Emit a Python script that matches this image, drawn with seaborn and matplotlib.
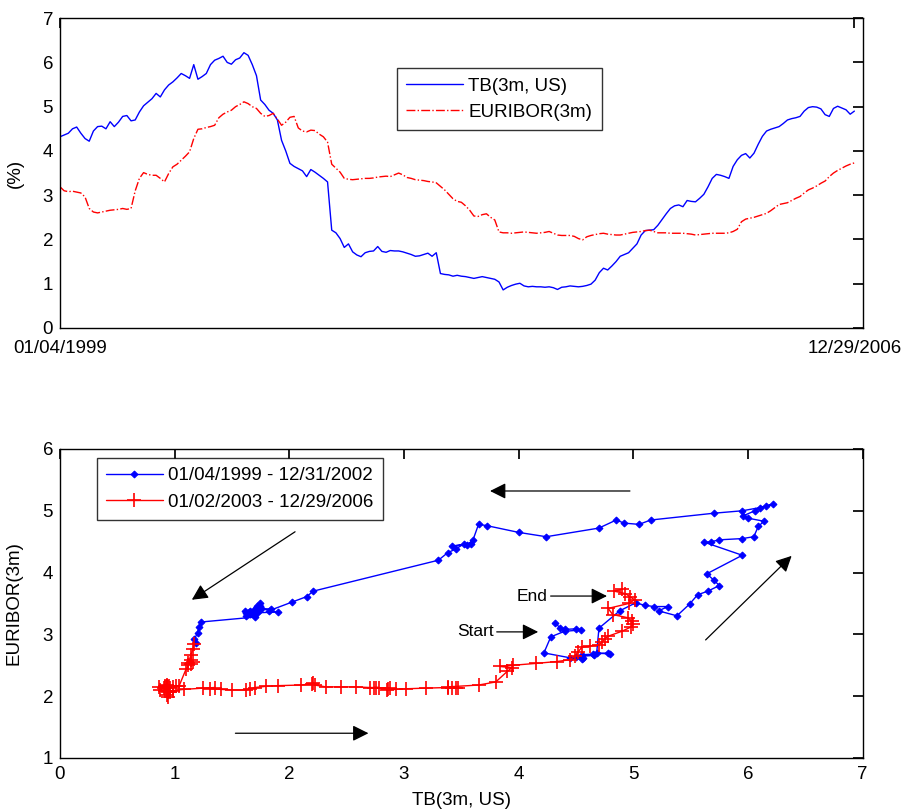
import numpy as np
import pandas as pd
import matplotlib
matplotlib.use('Agg')
import matplotlib.pyplot as plt
import seaborn as sns

# ==========================================
# 1. DATA (read twice a month, Jan 1999 - Dec 2006)
# ==========================================
tb_3m_us = [
    4.32, 4.36, 4.40, 4.50, 4.54, 4.40, 4.28, 4.22, 4.45, 4.55, 4.56, 4.50,   # 1999
    4.66, 4.55, 4.65, 4.78, 4.80, 4.68, 4.70, 4.88, 5.02, 5.10, 5.18, 5.30,
    5.22, 5.38, 5.49, 5.56, 5.65, 5.75, 5.70, 5.64, 5.95, 5.62, 5.68, 5.75,   # 2000
    5.95, 6.05, 6.09, 6.14, 6.00, 5.96, 6.06, 6.10, 6.22, 6.16, 5.95, 5.70,
    5.15, 5.05, 4.92, 4.85, 4.70, 4.24, 4.00, 3.72, 3.65, 3.60, 3.55, 3.42,   # 2001
    3.58, 3.52, 3.45, 3.38, 3.30, 2.21, 2.15, 2.02, 1.82, 1.90, 1.72, 1.65,
    1.61, 1.70, 1.73, 1.74, 1.84, 1.73, 1.71, 1.75, 1.74, 1.74, 1.72, 1.69,   # 2002
    1.66, 1.62, 1.63, 1.66, 1.69, 1.62, 1.70, 1.23, 1.21, 1.20, 1.17, 1.19,
    1.17, 1.16, 1.14, 1.12, 1.14, 1.16, 1.14, 1.12, 1.10, 1.04, 0.86, 0.92,   # 2003
    0.96, 0.99, 1.01, 0.95, 0.93, 0.94, 0.93, 0.93, 0.92, 0.93, 0.91, 0.87,
    0.92, 0.93, 0.95, 0.94, 0.93, 0.94, 0.96, 0.99, 1.08, 1.25, 1.35, 1.31,   # 2004
    1.40, 1.50, 1.62, 1.66, 1.70, 1.80, 1.90, 2.10, 2.20, 2.21, 2.22, 2.32,
    2.45, 2.58, 2.70, 2.76, 2.78, 2.74, 2.88, 2.86, 2.85, 2.93, 3.02, 3.19,   # 2005
    3.38, 3.47, 3.45, 3.42, 3.38, 3.65, 3.80, 3.90, 3.94, 3.84, 3.95, 4.15,
    4.33, 4.45, 4.49, 4.52, 4.55, 4.62, 4.70, 4.73, 4.75, 4.78, 4.90, 4.98,   # 2006
    5.00, 4.99, 4.95, 4.82, 4.78, 4.96, 5.01, 4.97, 4.93, 4.83, 4.90,
]
euribor_3m = [
    3.19, 3.10, 3.08, 3.09, 3.07, 3.05, 2.96, 2.70, 2.62, 2.60, 2.62, 2.64,   # 1999
    2.66, 2.67, 2.68, 2.70, 2.68, 2.70, 3.10, 3.38, 3.51, 3.47, 3.45, 3.45,
    3.38, 3.30, 3.49, 3.64, 3.70, 3.79, 3.88, 3.98, 4.28, 4.49, 4.50, 4.53,   # 2000
    4.55, 4.58, 4.75, 4.83, 4.88, 4.92, 5.00, 5.05, 5.11, 5.07, 5.00, 4.96,
    4.85, 4.78, 4.80, 4.85, 4.72, 4.58, 4.65, 4.76, 4.78, 4.52, 4.45, 4.43,   # 2001
    4.47, 4.46, 4.38, 4.32, 4.20, 3.70, 3.61, 3.52, 3.38, 3.36, 3.35, 3.36,
    3.37, 3.38, 3.38, 3.39, 3.41, 3.42, 3.43, 3.42, 3.46, 3.50, 3.46, 3.40,   # 2002
    3.38, 3.35, 3.34, 3.33, 3.31, 3.30, 3.28, 3.20, 3.12, 3.02, 2.92, 2.86,
    2.84, 2.76, 2.66, 2.53, 2.52, 2.56, 2.58, 2.50, 2.44, 2.17, 2.15, 2.15,   # 2003
    2.14, 2.15, 2.16, 2.17, 2.16, 2.15, 2.14, 2.15, 2.16, 2.18, 2.14, 2.10,
    2.09, 2.09, 2.09, 2.07, 2.02, 1.99, 2.06, 2.09, 2.11, 2.13, 2.14, 2.12,   # 2004
    2.11, 2.10, 2.10, 2.12, 2.14, 2.16, 2.17, 2.18, 2.20, 2.21, 2.18, 2.15,
    2.15, 2.15, 2.14, 2.14, 2.14, 2.14, 2.13, 2.12, 2.10, 2.11, 2.12, 2.13,   # 2005
    2.14, 2.14, 2.14, 2.14, 2.15, 2.18, 2.23, 2.40, 2.46, 2.48, 2.50, 2.53,
    2.56, 2.59, 2.65, 2.72, 2.79, 2.81, 2.83, 2.88, 2.93, 2.97, 3.05, 3.12,   # 2006
    3.16, 3.21, 3.27, 3.32, 3.42, 3.50, 3.56, 3.61, 3.66, 3.70, 3.73,
]
date_ticks = ['01/04/1999', '12/29/2006']
series_names = ['TB(3m, US)', 'EURIBOR(3m)']
period_names = ['01/04/1999 - 12/31/2002', '01/02/2003 - 12/29/2006']

df = pd.DataFrame({'tb': tb_3m_us, 'euribor': euribor_3m})
df['t'] = np.arange(len(df)) / 2.0   # months since Jan 1999
split = 96  # first reading of 2003
df1 = df.iloc[:split]
df2 = df.iloc[split:]

# ==========================================
# 2. STYLE
# ==========================================
sns.set_theme(style='white')
plt.rcParams['font.family'] = ['Liberation Sans', 'DejaVu Sans']
plt.rcParams.update({
    'font.size': 13.5,
    'axes.edgecolor': 'black',
    'axes.linewidth': 1.0,
    'xtick.direction': 'in',
    'ytick.direction': 'in',
    'xtick.top': True,
    'ytick.right': True,
    'xtick.major.size': 7,
    'ytick.major.size': 7,
    'xtick.major.pad': 6,
    'ytick.major.pad': 5,
    'xtick.color': 'black',
    'ytick.color': 'black',
    'xtick.labelsize': 13.5,
    'ytick.labelsize': 13.5,
    'axes.labelsize': 13.5,
    'axes.labelcolor': 'black',
    'text.color': 'black',
})

fig = plt.figure(figsize=(9.03, 8.11), dpi=100)
ax1 = fig.add_axes([0.0664, 0.5956, 0.889, 0.382])
ax2 = fig.add_axes([0.0664, 0.0654, 0.889, 0.381])

legend_kw = dict(loc='upper left', frameon=True, fancybox=False, edgecolor='black',
                 fontsize=13.5, borderaxespad=0, borderpad=0.5, labelspacing=0.5,
                 handletextpad=0.3, handlelength=3.0)

# ==========================================
# 3. TOP: time series
# ==========================================
sns.lineplot(data=df, x='t', y='tb', ax=ax1, color='blue', lw=1.0,
             label=series_names[0])
sns.lineplot(data=df, x='t', y='euribor', ax=ax1, color='red', lw=1.0,
             linestyle='-.', label=series_names[1])
ax1.set_xlim(0, 96)
ax1.set_ylim(0, 7)
ax1.set_xticks([df['t'].iloc[0], df['t'].iloc[-1]])
ax1.set_xticklabels(date_ticks)
ax1.set_yticks(range(0, 8))
ax1.tick_params(axis='x', pad=9)
ax1.set_xlabel('')
ax1.set_ylabel('(%)')
ax1.yaxis.set_label_coords(-0.045, 0.5)
leg1 = ax1.legend(bbox_to_anchor=(0.42, 0.839), **legend_kw)
leg1.get_frame().set_linewidth(1.0)

# ==========================================
# 4. BOTTOM: TB vs EURIBOR path
# ==========================================
sns.lineplot(data=df1, x='tb', y='euribor', ax=ax2, sort=False, estimator=None,
             color='blue', lw=1.0, marker='D', markersize=3.5,
             markeredgecolor='blue', label=period_names[0])
sns.lineplot(data=df2, x='tb', y='euribor', ax=ax2, sort=False, estimator=None,
             color='red', lw=1.0, marker='+', markersize=10, markeredgewidth=1.2,
             markeredgecolor='red', label=period_names[1])
ax2.set_xlim(0, 7)
ax2.set_ylim(1, 6)
ax2.set_xticks(range(0, 8))
ax2.set_yticks(range(1, 7))
ax2.set_xlabel('TB(3m, US)', labelpad=6)
ax2.set_ylabel('EURIBOR(3m)')
ax2.yaxis.set_label_coords(-0.047, 0.5)
leg2 = ax2.legend(bbox_to_anchor=(0.046, 0.971), **legend_kw)
leg2.get_frame().set_linewidth(1.0)

arrow_kw = dict(arrowstyle='-|>', color='black', lw=0.9, mutation_scale=24,
                shrinkA=0, shrinkB=0)
ax2.annotate('', xy=(3.75, 5.32), xytext=(4.97, 5.32), arrowprops=arrow_kw)
ax2.annotate('', xy=(1.15, 3.56), xytext=(2.05, 4.66), arrowprops=arrow_kw)
ax2.annotate('', xy=(2.69, 1.40), xytext=(1.53, 1.40), arrowprops=arrow_kw)
ax2.annotate('', xy=(6.38, 4.27), xytext=(5.63, 2.91), arrowprops=arrow_kw)
ax2.annotate('End', xy=(4.77, 3.62), xytext=(4.25, 3.62), ha='right', va='center',
             fontsize=12.5, arrowprops=arrow_kw)
ax2.annotate('Start', xy=(4.17, 3.04), xytext=(3.78, 3.04), ha='right', va='center',
             fontsize=12.5, arrowprops=arrow_kw)

plt.savefig('out.png', dpi=100)
